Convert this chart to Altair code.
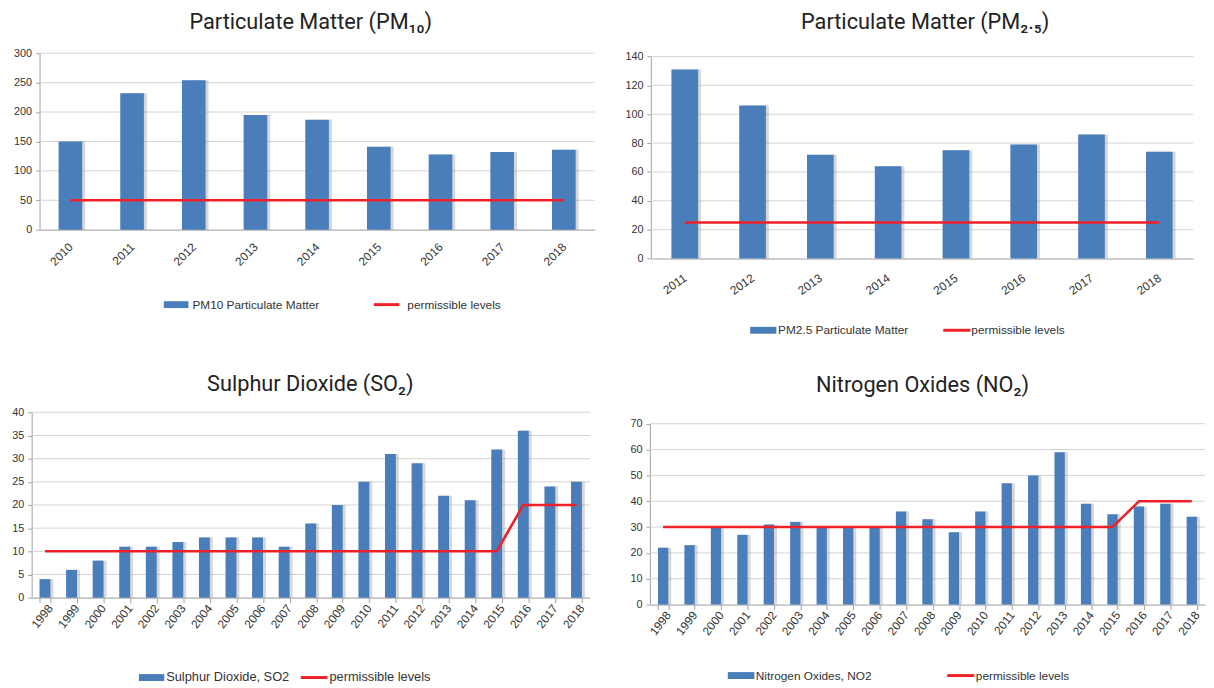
import altair as alt
import pandas as pd

# ---------------- data ----------------
pm10_years = ["2010", "2011", "2012", "2013", "2014", "2015", "2016", "2017", "2018"]
pm10_values = [150, 232, 254, 195, 187, 141, 128, 132, 136]
pm10_limits = [50, 50, 50, 50, 50, 50, 50, 50, 50]
pm10_ticks = [0, 50, 100, 150, 200, 250, 300]

pm25_years = ["2011", "2012", "2013", "2014", "2015", "2016", "2017", "2018"]
pm25_values = [131, 106, 72, 64, 75, 79, 86, 74]
pm25_limits = [25, 25, 25, 25, 25, 25, 25, 25]
pm25_ticks = [0, 20, 40, 60, 80, 100, 120, 140]

long_years = ["1998", "1999", "2000", "2001", "2002", "2003", "2004", "2005", "2006", "2007",
              "2008", "2009", "2010", "2011", "2012", "2013", "2014", "2015", "2016", "2017", "2018"]
so2_values = [4, 6, 8, 11, 11, 12, 13, 13, 13, 11, 16, 20, 25, 31, 29, 22, 21, 32, 36, 24, 25]
so2_limits = [10, 10, 10, 10, 10, 10, 10, 10, 10, 10, 10, 10, 10, 10, 10, 10, 10, 10, 20, 20, 20]
so2_ticks = [0, 5, 10, 15, 20, 25, 30, 35, 40]

no2_values = [22, 23, 30, 27, 31, 32, 30, 30, 30, 36, 33, 28, 36, 47, 50, 59, 39, 35, 38, 39, 34]
no2_limits = [30, 30, 30, 30, 30, 30, 30, 30, 30, 30, 30, 30, 30, 30, 30, 30, 30, 30, 40, 40, 40]
no2_ticks = [0, 10, 20, 30, 40, 50, 60, 70]

titles = ["Particulate Matter (PM₁₀)", "Particulate Matter (PM₂.₅)",
          "Sulphur Dioxide (SO₂)", "Nitrogen Oxides (NO₂)"]
bar_names = ["PM10 Particulate Matter", "PM2.5 Particulate Matter",
             "Sulphur Dioxide, SO2", "Nitrogen Oxides, NO2"]
line_name = "permissible levels"

BLUE = "#4a7ebb"
RED = "#ee2028"
GRID = "#d3d3d3"
AXIS = "#a0a0a0"
LABEL = "#333333"


def panel(years, values, limits, yticks, title, bar_name, width, height, top_gap, x_shift,
          title_offset, title_dx, label_angle, label_pad, label_off, label_size, x_ticks,
          pad_inner, y_extent, leg, leg_font):
    df = pd.DataFrame({"year": years, "value": values, "limit": limits})
    grid_df = pd.DataFrame({"tick": yticks})
    xscale = alt.Scale(paddingInner=pad_inner, paddingOuter=pad_inner / 2,
                       range=[x_shift, x_shift + width])
    xaxis = alt.Axis(
        title=None, labelAngle=label_angle, labelAlign="right", labelBaseline="middle",
        labelFont="Liberation Sans", labelFontSize=label_size, labelColor=LABEL,
        labelPadding=label_pad, labelOffset=label_off, domainColor=AXIS, ticks=x_ticks,
        tickSize=5 if x_ticks else 0, tickColor=AXIS, tickBand="extent",
        grid=False, labelOverlap=False,
    )
    yaxis = alt.Axis(
        title=None, values=yticks, labelFont="Liberation Sans", labelFontSize=11,
        labelColor=LABEL, labelPadding=4, tickSize=4, tickColor=AXIS,
        domainColor=AXIS, grid=False, offset=-x_shift,
        minExtent=y_extent, maxExtent=y_extent,
    )
    yscale = alt.Scale(domain=[yticks[0], yticks[-1]], nice=False,
                       range=[height, top_gap])
    x_enc = alt.X("year:O", sort=None, scale=xscale, axis=xaxis)
    y_val = alt.Y("value:Q", scale=yscale, axis=yaxis)
    y_lim = alt.Y("limit:Q", scale=yscale, axis=yaxis)
    grid = alt.Chart(grid_df).mark_rule(color=GRID, strokeWidth=1).encode(
        y=alt.Y("tick:Q", scale=yscale, axis=yaxis),
        x=alt.value(x_shift), x2=alt.value(x_shift + width),
    )
    base = alt.Chart(df)
    shadow = base.mark_bar(color="#8c8c8c", opacity=0.35, xOffset=3).encode(x=x_enc, y=y_val)
    bars = base.mark_bar(color=BLUE).encode(x=x_enc, y=y_val)
    line = base.mark_line(color=RED, strokeWidth=2.6).encode(x=x_enc, y=y_lim)
    sx0, sx1, ly, tx, rx0, rx1, rtx = leg
    one_bar = pd.DataFrame({"label": [bar_name]})
    one_line = pd.DataFrame({"label": [line_name]})
    sw = alt.Chart(one_bar).mark_rect(color=BLUE).encode(
        x=alt.value(sx0), x2=alt.value(sx1), y=alt.value(ly - 3.5), y2=alt.value(ly + 3.5)
    )
    sw_t = alt.Chart(one_bar).mark_text(
        align="left", baseline="middle", font="Liberation Sans", fontSize=leg_font, color=LABEL
    ).encode(text="label:N", x=alt.value(tx), y=alt.value(ly))
    rl = alt.Chart(one_line).mark_rule(color=RED, strokeWidth=3).encode(
        x=alt.value(rx0), x2=alt.value(rx1), y=alt.value(ly)
    )
    rl_t = alt.Chart(one_line).mark_text(
        align="left", baseline="middle", font="Liberation Sans", fontSize=leg_font, color=LABEL
    ).encode(text="label:N", x=alt.value(rtx), y=alt.value(ly))
    return alt.layer(grid, shadow, bars, line, sw, sw_t, rl, rl_t).properties(
        width=x_shift + width, height=height,
        title=alt.TitleParams(title, font="Roboto", fontSize=22, fontWeight="normal",
                              color="#222222", offset=title_offset, dx=title_dx,
                              anchor="middle"),
    )


# legend tuples: swatch x0, x1, y, text x, red x0, x1, text x (relative to group origin)
p1 = panel(pm10_years, pm10_values, pm10_limits, pm10_ticks, titles[0], bar_names[0],
           563, 179, 0, 8, 13.7, -2.5, -45, 15, 0, 12, False, 0.617, 32,
           (134, 159, 255, 163, 347, 373, 381), 12)
p2 = panel(pm25_years, pm25_values, pm25_limits, pm25_ticks, titles[1], bar_names[1],
           550, 208.3, 3.3, 0, 16.7, 3.2, -35, 18, 0, 12, False, 0.606, 32,
           (100.7, 127.3, 281, 129, 296.5, 324, 325), 12)
p3 = panel(long_years, so2_values, so2_limits, so2_ticks, titles[2], bar_names[2],
           566, 188, 0, 0, 10.4, -0.4, -52, 3, 5, 12, True, 0.59, 24,
           (108.8, 134.5, 269, 136.4, 273, 300, 302), 13)
p4 = panel(long_years, no2_values, no2_limits, no2_ticks, titles[3], bar_names[3],
           563, 195, 11.6, 0, 15.9, -5, -52, 3, 5, 12, True, 0.61, 32,
           (79, 106, 267, 107.4, 301.6, 329, 330.6), 12)

row1 = alt.hconcat(p1, p2, spacing=24)
row2 = alt.hconcat(p3, p4, spacing=28)
chart = alt.vconcat(row1, row2, spacing=37.2).properties(
    padding={"left": 0, "top": -2, "right": 0, "bottom": 0}
).configure(background="white").configure_view(stroke=None)

chart.save("out.html", embed_options={"renderer": "svg", "actions": False})
